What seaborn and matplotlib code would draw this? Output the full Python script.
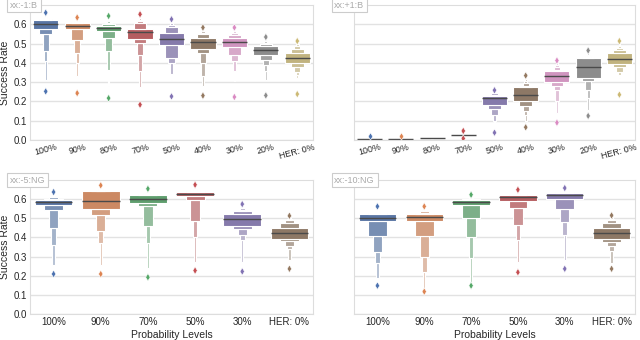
import numpy as np
import pandas as pd
import matplotlib
matplotlib.use("Agg")
import matplotlib.pyplot as plt
import seaborn as sns

# Letter values, per category:
# [low flier, LV1, LV2, LV3, LV4, Q1, median, Q3, UV4, UV3, UV2, UV1, high flier]
# Each value is repeated by its sample weight so the letter-value statistics land on it.
LV_WEIGHTS = [1, 1, 2, 4, 8, 16, 1, 16, 8, 4, 2, 1, 1]

P1_TITLE = "xx:-1:B"
P1_CATS = ["100%", "90%", "80%", "70%", "50%", "40%", "30%", "20%", "HER: 0%"]
P1_LV = [
    [0.252, 0.310, 0.410, 0.460, 0.550, 0.578, 0.603, 0.620, 0.625, 0.632, 0.638, 0.645, 0.660],
    [0.243, 0.330, 0.400, 0.450, 0.520, 0.577, 0.590, 0.605, 0.612, 0.617, 0.622, 0.627, 0.635],
    [0.217, 0.280, 0.365, 0.460, 0.527, 0.565, 0.583, 0.591, 0.600, 0.609, 0.617, 0.623, 0.643],
    [0.183, 0.275, 0.357, 0.443, 0.505, 0.525, 0.560, 0.577, 0.605, 0.615, 0.623, 0.635, 0.652],
    [0.226, 0.313, 0.340, 0.400, 0.426, 0.492, 0.522, 0.557, 0.588, 0.598, 0.605, 0.610, 0.626],
    [0.230, 0.278, 0.330, 0.400, 0.452, 0.470, 0.510, 0.530, 0.548, 0.555, 0.565, 0.570, 0.583],
    [0.223, 0.304, 0.360, 0.410, 0.443, 0.483, 0.510, 0.527, 0.543, 0.557, 0.565, 0.570, 0.583],
    [0.231, 0.313, 0.360, 0.391, 0.414, 0.443, 0.466, 0.487, 0.496, 0.505, 0.513, 0.520, 0.534],
    [0.238, 0.320, 0.335, 0.351, 0.377, 0.400, 0.423, 0.449, 0.473, 0.490, 0.497, 0.503, 0.513],
]

P2_TITLE = "xx:+1:B"
P2_CATS = ["100%", "90%", "80%", "70%", "50%", "40%", "30%", "20%", "HER: 0%"]
P2_LV = [
    [0.003, 0.003, 0.004, 0.005, 0.005, 0.006, 0.006, 0.007, 0.008, 0.009, 0.010, 0.011, 0.022],
    [0.004, 0.004, 0.005, 0.005, 0.006, 0.006, 0.007, 0.007, 0.008, 0.009, 0.010, 0.011, 0.022],
    [0.007, 0.007, 0.008, 0.008, 0.009, 0.009, 0.010, 0.010, 0.011, 0.011, 0.012, 0.012, 0.012],
    [0.008, 0.015, 0.018, 0.020, 0.021, 0.022, 0.025, 0.027, 0.029, 0.030, 0.031, 0.032, 0.047],
    [0.038, 0.060, 0.100, 0.130, 0.160, 0.183, 0.216, 0.230, 0.235, 0.243, 0.248, 0.252, 0.258],
    [0.066, 0.100, 0.130, 0.151, 0.177, 0.200, 0.231, 0.275, 0.278, 0.296, 0.305, 0.315, 0.334],
    [0.090, 0.140, 0.200, 0.261, 0.282, 0.300, 0.330, 0.360, 0.365, 0.377, 0.390, 0.397, 0.412],
    [0.125, 0.157, 0.220, 0.260, 0.308, 0.322, 0.379, 0.423, 0.428, 0.435, 0.443, 0.450, 0.464],
    [0.235, 0.320, 0.335, 0.351, 0.377, 0.395, 0.421, 0.452, 0.465, 0.478, 0.490, 0.500, 0.513],
]

P3_TITLE = "xx:-5:NG"
P3_CATS = ["100%", "90%", "70%", "50%", "30%", "HER: 0%"]
P3_LV = [
    [0.209, 0.257, 0.358, 0.449, 0.545, 0.571, 0.585, 0.597, 0.603, 0.609, 0.615, 0.620, 0.637],
    [0.209, 0.257, 0.370, 0.435, 0.518, 0.548, 0.588, 0.640, 0.644, 0.648, 0.654, 0.658, 0.672],
    [0.192, 0.239, 0.370, 0.462, 0.562, 0.579, 0.602, 0.623, 0.626, 0.630, 0.637, 0.642, 0.654],
    [0.227, 0.274, 0.400, 0.487, 0.597, 0.614, 0.628, 0.637, 0.641, 0.646, 0.652, 0.658, 0.675],
    [0.222, 0.270, 0.387, 0.414, 0.445, 0.462, 0.496, 0.522, 0.536, 0.545, 0.553, 0.560, 0.574],
    [0.236, 0.280, 0.340, 0.353, 0.379, 0.393, 0.422, 0.449, 0.475, 0.490, 0.496, 0.503, 0.513],
]

P4_TITLE = "xx:-10:NG"
P4_CATS = ["100%", "90%", "70%", "50%", "30%", "HER: 0%"]
P4_LV = [
    [0.148, 0.187, 0.265, 0.326, 0.405, 0.487, 0.504, 0.522, 0.526, 0.530, 0.535, 0.539, 0.562],
    [0.117, 0.134, 0.222, 0.300, 0.405, 0.487, 0.506, 0.524, 0.530, 0.536, 0.541, 0.545, 0.562],
    [0.148, 0.169, 0.291, 0.400, 0.501, 0.571, 0.585, 0.597, 0.600, 0.603, 0.606, 0.610, 0.623],
    [0.218, 0.274, 0.387, 0.466, 0.553, 0.588, 0.609, 0.623, 0.626, 0.629, 0.632, 0.636, 0.649],
    [0.236, 0.283, 0.414, 0.483, 0.548, 0.602, 0.620, 0.632, 0.636, 0.640, 0.644, 0.648, 0.658],
    [0.236, 0.265, 0.330, 0.353, 0.375, 0.393, 0.422, 0.449, 0.475, 0.492, 0.498, 0.505, 0.515],
]

Y_TICKS = [0.0, 0.1, 0.2, 0.3, 0.4, 0.5, 0.6]

sns.set_theme(style="whitegrid")
plt.rcParams["font.family"] = ["Liberation Sans", "DejaVu Sans"]
plt.rcParams["axes.edgecolor"] = "#dddddd"
plt.rcParams["grid.color"] = "#e2e2e2"

fig = plt.figure(figsize=(6.4, 3.4), dpi=100)
W = 281 / 640
positions = [
    [30 / 640, 1 - 140 / 340, 283 / 640, 135 / 340],
    [354 / 640, 1 - 140 / 340, W, 135 / 340],
    [30 / 640, 1 - 314 / 340, 283 / 640, 134 / 340],
    [354 / 640, 1 - 314 / 340, W, 134 / 340],
]
panels = [
    (P1_TITLE, P1_CATS, P1_LV),
    (P2_TITLE, P2_CATS, P2_LV),
    (P3_TITLE, P3_CATS, P3_LV),
    (P4_TITLE, P4_CATS, P4_LV),
]
pal = sns.color_palette("deep")

for i, ((title, cats, lvs), pos) in enumerate(zip(panels, positions)):
    ax = fig.add_axes(pos)
    rows = []
    frows = []
    for cat, lv in zip(cats, lvs):
        for v in np.repeat(lv, LV_WEIGHTS):
            rows.append((cat, v))
        if lv[0] < lv[1]:
            frows.append((cat, lv[0]))
        if lv[-1] > lv[-2]:
            frows.append((cat, lv[-1]))
    df = pd.DataFrame(rows, columns=["level", "rate"])
    fdf = pd.DataFrame(frows, columns=["level", "rate"])
    sns.boxenplot(data=df, x="level", y="rate", hue="level", order=cats,
                  hue_order=cats, palette=pal[:len(cats)], k_depth=5,
                  width_method="exponential", width=0.8, linecolor="white",
                  linewidth=0.8, legend=False, ax=ax, showfliers=False,
                  line_kws=dict(color="#4a4a4a", linewidth=1.0))
    sns.stripplot(data=fdf, x="level", y="rate", hue="level", order=cats,
                  hue_order=cats, palette=pal[:len(cats)], jitter=False,
                  marker="d", size=3.8, linewidth=0.4, edgecolor="white",
                  legend=False, ax=ax)
    ax.set_ylim(0, 0.70)
    ax.set_yticks(Y_TICKS)
    ax.tick_params(axis="both", labelsize=7, pad=2, length=0)
    for sp in ax.spines.values():
        sp.set_color("#dddddd")
        sp.set_linewidth(0.8)
    if i % 2 == 0:
        ax.set_ylabel("Success Rate", fontsize=7.5, labelpad=3)
    else:
        ax.set_ylabel("")
        ax.set_yticklabels([])
    if i < 2:
        ax.set_xlabel("")
        for lab in ax.get_xticklabels():
            lab.set_rotation(15)
            lab.set_fontsize(6.4)
    else:
        ax.set_xlabel("Probability Levels", fontsize=7.5, labelpad=2)
    ax.text(-0.07, 1.0, title, transform=ax.transAxes, ha="left", va="center",
            fontsize=6.5, color="#aaaaaa",
            bbox=dict(boxstyle="square,pad=0.3", fc="white", ec="#cccccc", lw=0.8))

fig.savefig("out.png", dpi=100)
